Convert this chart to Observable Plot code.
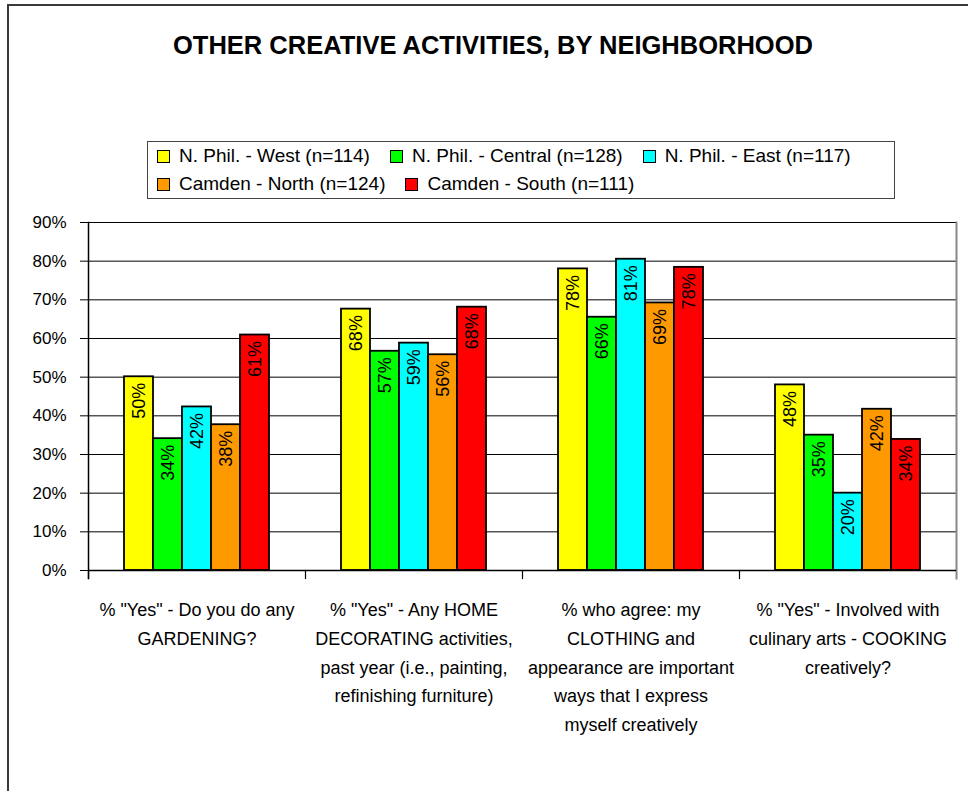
<!DOCTYPE html>
<html>
<head>
<meta charset="utf-8">
<script src="https://cdn.jsdelivr.net/npm/d3@7"></script>
<script src="https://cdn.jsdelivr.net/npm/@observablehq/plot@0.6"></script>
<style>
  body { margin: 0; background: #fff; }
  #wrap { position: relative; width: 968px; height: 791px; overflow: hidden; font-family: "Liberation Sans", Arial, sans-serif; color: #000; }
  #frame { position: absolute; left: 7px; top: 4px; width: 990px; height: 820px; border-left: 2px solid #3a3a3a; border-top: 2px solid #3a3a3a; }
  #title { position: absolute; left: 0; top: 30px; width: 986px; text-align: center; font-weight: bold; font-size: 25.5px; line-height: 30px; white-space: nowrap; }
  #legend { position: absolute; left: 147px; top: 141px; width: 737px; height: 56px; border: 1px solid #444; padding-left: 9px; display: flex; flex-wrap: wrap; align-content: flex-start; }
  .item { display: flex; align-items: center; height: 28px; margin-right: 20px; font-size: 19px; white-space: nowrap; }
  .sw { width: 11px; height: 11px; border: 1.5px solid #000; margin-right: 9px; }
  #chart { position: absolute; left: 0; top: 200px; }
</style>
</head>
<body>
<div id="wrap">
  <div id="frame"></div>
  <div id="title"></div>
  <div id="legend"></div>
  <div id="chart"></div>
</div>
<script>
const titleText = "OTHER CREATIVE ACTIVITIES, BY NEIGHBORHOOD";
const categories = ["Gardening", "Home decorating", "Clothing", "Cooking"];
const categoryLabels = [
  "% \"Yes\" - Do you do any\nGARDENING?",
  "% \"Yes\" - Any HOME\nDECORATING activities,\npast year (i.e., painting,\nrefinishing furniture)",
  "% who agree: my\nCLOTHING and\nappearance are important\nways that I express\nmyself creatively",
  "% \"Yes\" - Involved with\nculinary arts - COOKING\ncreatively?"
];
const series = [
  "N. Phil. - West (n=114)",
  "N. Phil. - Central (n=128)",
  "N. Phil. - East (n=117)",
  "Camden - North (n=124)",
  "Camden - South (n=111)"
];
const colors = ["#FFFF00", "#00FF00", "#00FFFF", "#FF9900", "#FF0000"];
const westValues    = [50.1, 67.6, 78.0, 48.0];
const centralValues = [34.1, 56.7, 65.5, 35.0];
const eastValues    = [42.3, 58.8, 80.5, 20.0];
const northValues   = [37.7, 55.8, 69.2, 41.7];
const southValues   = [60.9, 68.1, 78.4, 33.9];
const yTicks = [0, 10, 20, 30, 40, 50, 60, 70, 80, 90];

const seriesValues = [westValues, centralValues, eastValues, northValues, southValues];
const data = [];
categories.forEach((c, ci) => {
  series.forEach((s, si) => {
    data.push({category: c, series: s, value: seriesValues[si][ci]});
  });
});

document.getElementById("title").textContent = titleText;
const legend = document.getElementById("legend");
series.forEach((s, i) => {
  const item = document.createElement("div");
  item.className = "item";
  const sw = document.createElement("span");
  sw.className = "sw";
  sw.style.background = colors[i];
  const t = document.createElement("span");
  t.textContent = s;
  item.appendChild(sw);
  item.appendChild(t);
  legend.appendChild(item);
  if (i === 2) {
    const br = document.createElement("div");
    br.style.flexBasis = "100%";
    br.style.height = "0";
    legend.appendChild(br);
  }
});

const H = 560, MT = 22, MB = 190;
const plotH = H - MT - MB;

const chart = Plot.plot({
  width: 968,
  height: H,
  marginTop: MT,
  marginLeft: 88,
  marginRight: 12,
  marginBottom: MB,
  style: {fontFamily: "'Liberation Sans', Arial, sans-serif", fontSize: "17px", color: "#000", background: "transparent", overflow: "visible"},
  fx: {domain: categories, padding: 0, label: null},
  x: {domain: series, paddingInner: 0, paddingOuter: 1.19, axis: null},
  y: {domain: [0, 90], label: null},
  color: {domain: series, range: colors},
  marks: [
    Plot.gridY(yTicks, {stroke: "#000", strokeOpacity: 1, strokeWidth: 1}),
    Plot.axisY(yTicks, {anchor: "left", tickSize: 8, tickPadding: 14, tickFormat: d => d + "%", fontSize: 17, label: null, stroke: "#000"}),
    Plot.axisFx({anchor: "bottom", tickSize: 0, tickPadding: 25, lineHeight: 1.6, fontSize: 18, label: null,
      tickFormat: d => categoryLabels[categories.indexOf(d)]}),
    Plot.barY(data, {fx: "category", x: "series", y: "value", fill: "series", stroke: "#000", strokeWidth: 1.8}),
    Plot.text(data, {fx: "category", x: "series", y: "value", text: d => Math.round(d.value) + "%",
      rotate: -90, textAnchor: "end", dy: 6, fontSize: 18, fill: "#000"}),
    Plot.frame({anchor: "left", facetAnchor: "left", stroke: "#000", strokeWidth: 1.5, insetBottom: -8}),
    Plot.frame({anchor: "left", stroke: "#000", strokeWidth: 1.2, insetTop: plotH, insetBottom: -8}),
    Plot.frame({anchor: "right", facetAnchor: "right", stroke: "#888", strokeWidth: 2, insetBottom: -8}),
    Plot.ruleY([0], {stroke: "#000", strokeWidth: 1.5})
  ]
});
document.getElementById("chart").appendChild(chart);
</script>
</body>
</html>
